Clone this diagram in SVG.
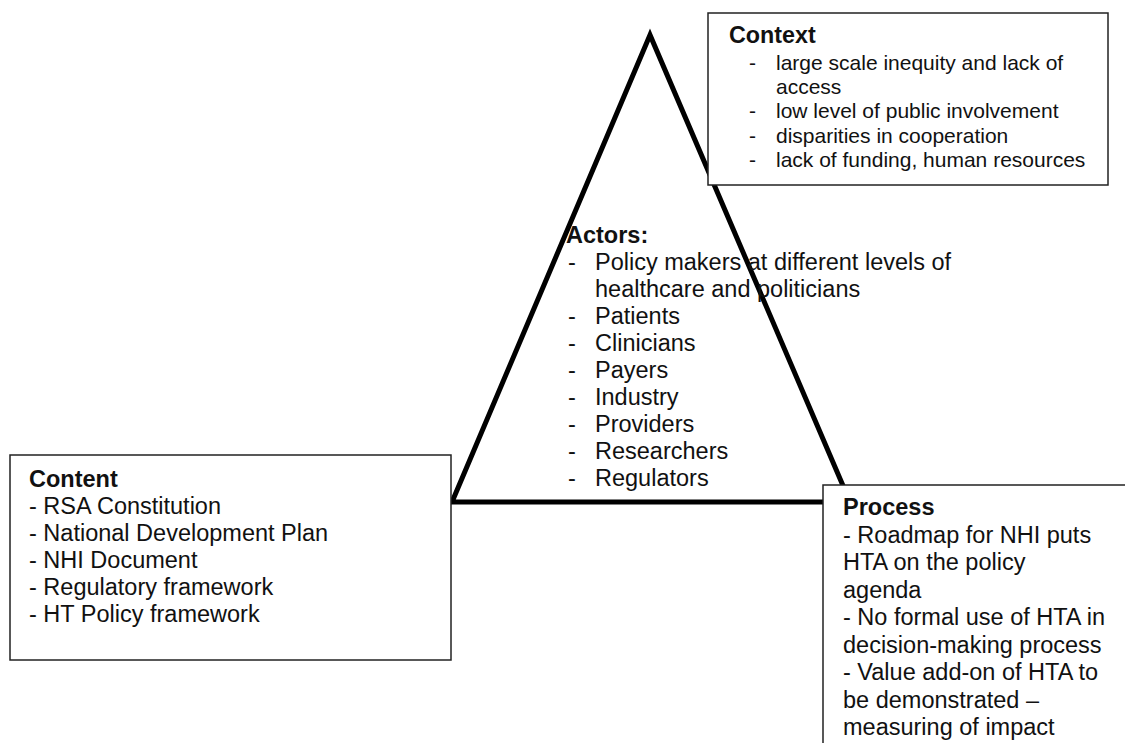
<svg xmlns="http://www.w3.org/2000/svg" width="1125" height="743" viewBox="0 0 1125 743">
<style>
text { font-family: "Liberation Sans", Arial, sans-serif; fill: #111; }
.t { font-weight: bold; font-size: 23.5px; }
.b { font-size: 23.5px; }
.s { font-size: 21px; }
.ts { font-weight: bold; font-size: 23.3px; }
.box { fill: #fff; stroke: #222; stroke-width: 1.5; }
.tri { fill: none; stroke: #000; stroke-width: 5; stroke-linejoin: miter; stroke-miterlimit: 10; }
</style>
<rect width="1125" height="743" fill="#fff"/>
<g id="connectors">
  <polygon class="tri" points="650,35 452,502 850,502"/>
</g>
<g id="actors">
  <text class="t" x="566" y="243">Actors:</text>
  <text class="b" x="568" y="270">-</text><text class="b" x="595" y="270">Policy makers at different levels of</text>
  <text class="b" x="595" y="297">healthcare and politicians</text>
  <text class="b" x="568" y="324">-</text><text class="b" x="595" y="324">Patients</text>
  <text class="b" x="568" y="351">-</text><text class="b" x="595" y="351">Clinicians</text>
  <text class="b" x="568" y="378">-</text><text class="b" x="595" y="378">Payers</text>
  <text class="b" x="568" y="405">-</text><text class="b" x="595" y="405">Industry</text>
  <text class="b" x="568" y="432">-</text><text class="b" x="595" y="432">Providers</text>
  <text class="b" x="568" y="459">-</text><text class="b" x="595" y="459">Researchers</text>
  <text class="b" x="568" y="486">-</text><text class="b" x="595" y="486">Regulators</text>
</g>
<g id="context">
  <rect class="box" x="708" y="13" width="400" height="172"/>
  <text class="ts" x="729" y="43">Context</text>
  <text class="s" x="749" y="70">-</text><text class="s" x="776" y="70">large scale inequity and lack of</text>
  <text class="s" x="776" y="94">access</text>
  <text class="s" x="749" y="118">-</text><text class="s" x="776" y="118">low level of public involvement</text>
  <text class="s" x="749" y="143">-</text><text class="s" x="776" y="143">disparities in cooperation</text>
  <text class="s" x="749" y="167">-</text><text class="s" x="776" y="167">lack of funding, human resources</text>
</g>
<g id="content">
  <rect class="box" x="10" y="455" width="441" height="205"/>
  <text class="t" x="29" y="487">Content</text>
  <text class="b" x="29" y="514">- RSA Constitution</text>
  <text class="b" x="29" y="541">- National Development Plan</text>
  <text class="b" x="29" y="568">- NHI Document</text>
  <text class="b" x="29" y="595">- Regulatory framework</text>
  <text class="b" x="29" y="622">- HT Policy framework</text>
</g>
<g id="process">
  <rect class="box" x="823" y="485" width="320" height="280"/>
  <text class="t" x="843" y="515">Process</text>
  <text class="b" x="843" y="542.5">- Roadmap for NHI puts</text>
  <text class="b" x="843" y="570">HTA on the policy</text>
  <text class="b" x="843" y="597.5">agenda</text>
  <text class="b" x="843" y="625">- No formal use of HTA in</text>
  <text class="b" x="843" y="652.5">decision-making process</text>
  <text class="b" x="843" y="680">- Value add-on of HTA to</text>
  <text class="b" x="843" y="707.5">be demonstrated –</text>
  <text class="b" x="843" y="735">measuring of impact</text>
</g>
</svg>
